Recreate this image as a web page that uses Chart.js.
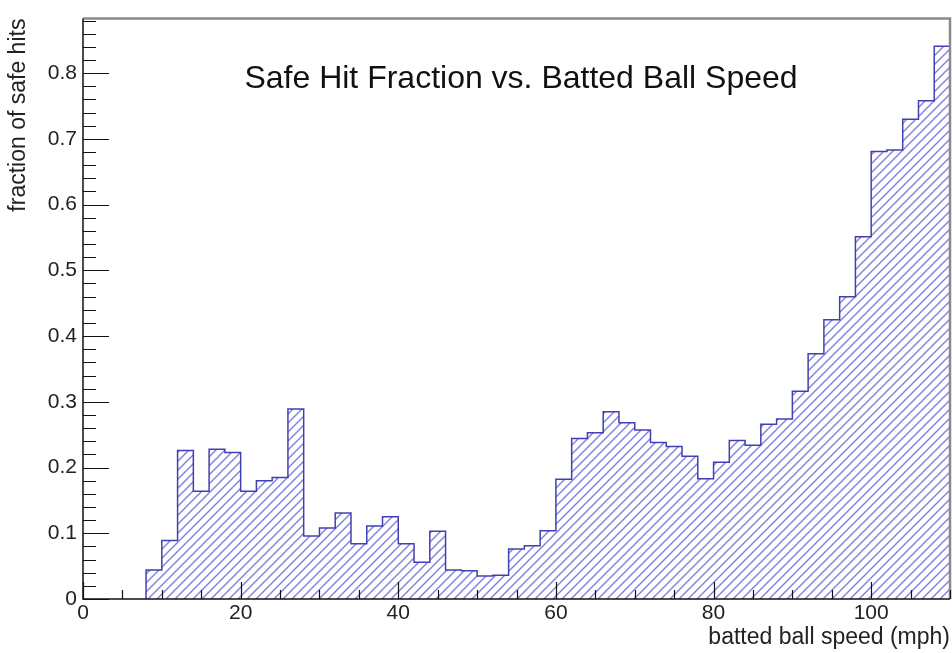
<!DOCTYPE html>
<html>
<head>
<meta charset="utf-8">
<script src="https://cdn.jsdelivr.net/npm/chart.js@4.4.0/dist/chart.umd.min.js"></script>
<style>
  html, body { margin: 0; padding: 0; background: #fff; }
  #wrap { width: 952px; height: 653px; }
</style>
</head>
<body>
<div id="wrap"><canvas id="histChart"></canvas></div>
<script>
// low edge of each 2 mph bin
const binLow = [8, 10, 12, 14, 16, 18, 20, 22, 24, 26, 28, 30, 32, 34, 36, 38, 40, 42, 44, 46,
                48, 50, 52, 54, 56, 58, 60, 62, 64, 66, 68, 70, 72, 74, 76, 78, 80, 82, 84, 86,
                88, 90, 92, 94, 96, 98, 100, 102, 104, 106, 108];
const binWidth = 2;
// fraction of safe hits per bin
const safeFraction = [0.044, 0.089, 0.226, 0.164, 0.228, 0.223, 0.164, 0.180, 0.185, 0.289,
                      0.096, 0.108, 0.131, 0.084, 0.111, 0.125, 0.084, 0.056, 0.103, 0.044,
                      0.043, 0.035, 0.036, 0.076, 0.081, 0.104, 0.182, 0.244, 0.253, 0.285,
                      0.268, 0.257, 0.238, 0.232, 0.217, 0.183, 0.208, 0.241, 0.234, 0.266,
                      0.274, 0.316, 0.373, 0.425, 0.460, 0.551, 0.681, 0.683, 0.730, 0.758,
                      0.841];
const xTickValues = [0, 20, 40, 60, 80, 100];
const yTickValues = [0, 0.1, 0.2, 0.3, 0.4, 0.5, 0.6, 0.7, 0.8];

const FONT = '"Liberation Sans", Arial, Helvetica, sans-serif';

// histogram outline as step points
const points = [{ x: binLow[0], y: 0 }];
binLow.forEach((lo, i) => points.push({ x: lo, y: safeFraction[i] }));
points.push({ x: binLow[binLow.length - 1] + binWidth, y: safeFraction[safeFraction.length - 1] });

function hatch(color) {
    const s = 9;
    const p = document.createElement('canvas');
    p.width = s; p.height = s;
    const c = p.getContext('2d');
    c.strokeStyle = color;
    c.lineWidth = 1.5;
    c.beginPath();
    c.moveTo(-1, s + 1); c.lineTo(s + 1, -1);
    c.moveTo(-1, 1); c.lineTo(1, -1);
    c.moveTo(s - 1, s + 1); c.lineTo(s + 1, s - 1);
    c.stroke();
    return c.createPattern(p, 'repeat');
}

// ROOT-like frame, inward ticks and in-pad title
const rootFrame = {
    id: 'rootFrame',
    afterDatasetsDraw(chart) {
        const { ctx, chartArea: a, scales: { x, y } } = chart;
        ctx.save();
        ctx.strokeStyle = '#8a8a8a';
        ctx.lineWidth = 2.5;
        ctx.beginPath();
        ctx.moveTo(a.left, a.top); ctx.lineTo(a.right, a.top); ctx.lineTo(a.right, a.bottom);
        ctx.stroke();

        ctx.strokeStyle = '#111';
        ctx.lineWidth = 1.5;
        ctx.beginPath();
        ctx.moveTo(a.left, a.top); ctx.lineTo(a.left, a.bottom); ctx.lineTo(a.right, a.bottom);
        ctx.stroke();

        ctx.lineWidth = 1.2;
        ctx.beginPath();
        for (let i = 0; i * 0.02 <= y.max; i++) {
            const py = Math.round(y.getPixelForValue(i * 0.02)) + 0.5;
            const len = i % 5 === 0 ? 26 : 13;
            ctx.moveTo(a.left, py); ctx.lineTo(a.left + len, py);
        }
        for (let i = 0; i * 5 <= x.max; i++) {
            const px = Math.round(x.getPixelForValue(i * 5)) + 0.5;
            const len = i % 4 === 0 ? 17 : 9;
            ctx.moveTo(px, a.bottom); ctx.lineTo(px, a.bottom - len);
        }
        ctx.stroke();

        ctx.fillStyle = '#111';
        ctx.font = '32px ' + FONT;
        ctx.textAlign = 'center';
        ctx.textBaseline = 'alphabetic';
        ctx.fillText('Safe Hit Fraction vs. Batted Ball Speed', 521, 88);
        ctx.restore();
    }
};

new Chart(document.getElementById('histChart'), {
    type: 'line',
    data: {
        datasets: [{
            data: points,
            stepped: true,
            fill: 'origin',
            backgroundColor: hatch('#8484e0'),
            borderColor: '#4040b2',
            borderWidth: 1.5,
            pointRadius: 0
        }]
    },
    options: {
        responsive: true,
        maintainAspectRatio: false,
        animation: false,
        devicePixelRatio: 1,
        layout: { padding: { top: 14, right: 2, left: 0, bottom: 0 } },
        plugins: { legend: { display: false }, tooltip: { enabled: false } },
        scales: {
            x: {
                type: 'linear',
                min: 0,
                max: 110,
                grid: { display: false, drawTicks: false },
                border: { display: false },
                afterBuildTicks: s => { s.ticks = xTickValues.map(v => ({ value: v })); },
                afterFit: s => { s.height = 54; },
                ticks: { font: { family: FONT, size: 21 }, color: '#222', padding: 2, maxRotation: 0, autoSkip: false },
                title: {
                    display: true, text: 'batted ball speed (mph)', align: 'end', color: '#222',
                    font: { family: FONT, size: 23, lineHeight: 1.2 }, padding: { top: 0, bottom: 2 }
                }
            },
            y: {
                min: 0,
                max: 0.883,
                grid: { display: false, drawTicks: false },
                border: { display: false },
                afterBuildTicks: s => { s.ticks = yTickValues.map(v => ({ value: v })); },
                afterFit: s => { s.width = 83; },
                ticks: {
                    font: { family: FONT, size: 21 }, color: '#222', padding: 6, autoSkip: false,
                    callback: v => v === 0 ? '0' : v.toFixed(1)
                },
                title: {
                    display: true, text: 'fraction of safe hits', align: 'end', color: '#222',
                    font: { family: FONT, size: 23, lineHeight: 1.2 }, padding: { top: 5, bottom: 0 }
                }
            }
        }
    },
    plugins: [rootFrame]
});
</script>
</body>
</html>
